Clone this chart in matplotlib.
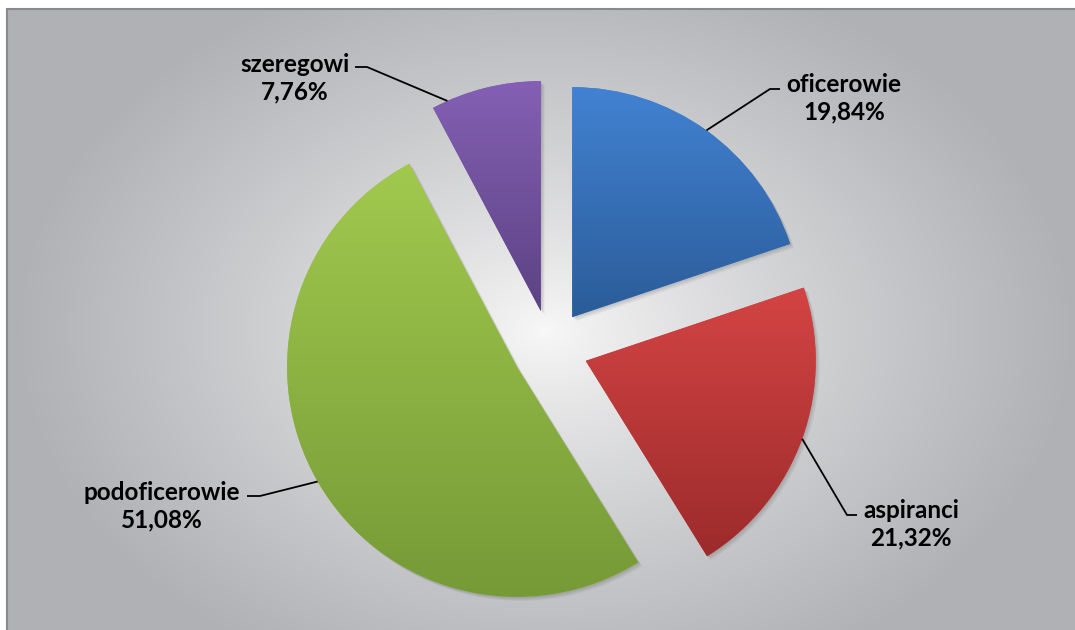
import numpy as np
import matplotlib
matplotlib.use("Agg")
from matplotlib import pyplot as plt
from matplotlib.colors import to_rgb
from matplotlib.patches import Rectangle, Wedge

labels = ["oficerowie", "aspiranci", "podoficerowie", "szeregowi"]
values = [19.84, 21.32, 51.08, 7.76]
top_colors = ["#4282d2", "#d44444", "#a2c94e", "#8460b4"]
bottom_colors = ["#2b5c99", "#9c2b2b", "#759a37", "#5c4283"]

W, H = 1075, 630
PAD = 20

# label text centre and leader-line elbow, in picture pixels (y down)
label_pos = [(844, 98), (911, 524), (162, 506), (295, 78)]
elbow = [((780, 89), (770, 89)), ((857, 515), (847, 515)),
         ((247, 496), (260, 496)), ((355, 67), (367, 67))]
anchor_nudge = [0, 0, 0, 10]


def fy(y):
    return H - y


def blend(c1, c2, t):
    c1 = np.array(to_rgb(c1))
    c2 = np.array(to_rgb(c2))
    return c1 + (c2 - c1) * t


plt.rcParams["font.family"] = ["Lato", "DejaVu Sans"]

fig = plt.figure(figsize=(W / 100, H / 100), dpi=100)
ax = fig.add_axes([0, 0, 1, 1])

# radial background (a bit larger than the figure so no edge shows)
yy, xx = np.mgrid[0:H + PAD, 0:W + PAD]
d = np.sqrt(((xx - 545) / 560.0) ** 2 + ((yy - 330) / 400.0) ** 2)
t = np.clip(d / 0.95, 0, 1) ** 0.85
bg = blend("#f8f8f8", "#b0b1b5", t[..., None])
bg[:8, :] = 1.0
bg[:, :6] = 1.0
ax.imshow(bg, extent=(0, W + PAD, -PAD, H), origin="upper",
          interpolation="nearest", zorder=0)
ax.add_patch(Rectangle((7, -50), W + 100, fy(9) + 50, fill=False,
                       edgecolor="#8a8a8a", lw=1.5, zorder=1))

wedges, _ = ax.pie(values, startangle=90, counterclock=False,
                   explode=[38] * len(values), radius=230,
                   center=(550, fy(348)), colors=top_colors,
                   wedgeprops=dict(linewidth=0, zorder=3))

for i, w in enumerate(wedges):
    # soft shadow
    for k in range(1, 6):
        sh = Wedge((w.center[0] + k * 0.8, w.center[1] - k * 0.8), w.r,
                   w.theta1, w.theta2, facecolor="black", alpha=0.035,
                   lw=0, zorder=2)
        ax.add_patch(sh)
    x0, y0, x1, y1 = w.get_path().get_extents().extents
    grad = blend(top_colors[i], bottom_colors[i],
                 np.linspace(0, 1, 256)[:, None, None]) * np.ones((1, 2, 1))
    im = ax.imshow(grad, extent=(x0, x1, y0, y1), origin="upper",
                   aspect="auto", zorder=4)
    im.set_clip_path(w)

    # leader line
    mid = np.deg2rad((w.theta1 + w.theta2) / 2 + anchor_nudge[i])
    ax_pt = (w.center[0] + w.r * np.cos(mid), w.center[1] + w.r * np.sin(mid))
    (ex0, ey0), (ex1, ey1) = elbow[i]
    ax.plot([ex0, ex1, ax_pt[0]], [fy(ey0), fy(ey1), ax_pt[1]],
            color="black", lw=1.3, zorder=5, solid_capstyle="butt")

    lx, ly = label_pos[i]
    ax.text(lx, fy(ly), f"{labels[i]}\n{values[i]:.2f}%".replace(".", ","),
            ha="center", va="center", multialignment="center",
            fontsize=17.5, fontweight="bold", linespacing=1.25, zorder=6)

ax.set_xlim(0, W)
ax.set_ylim(0, H)
ax.set_aspect("auto")
ax.axis("off")

fig.savefig("out.png", dpi=100, facecolor="white")
